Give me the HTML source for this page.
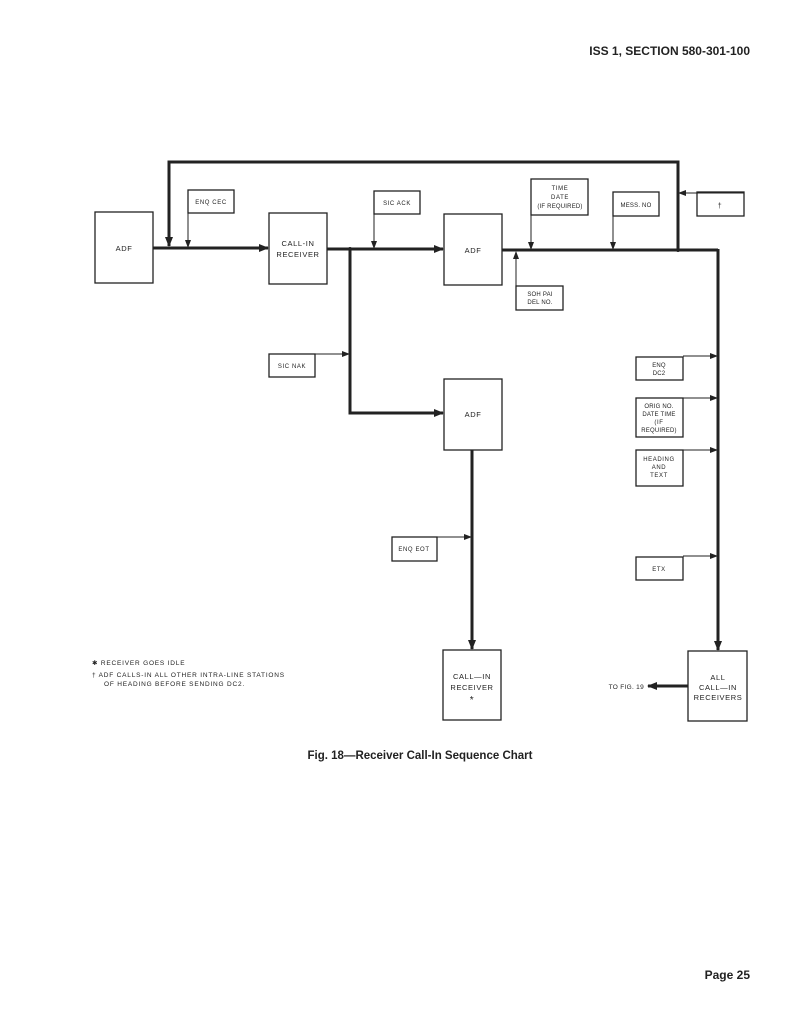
<!DOCTYPE html>
<html><head><meta charset="utf-8"><style>
html,body{margin:0;padding:0;background:#fff;}
svg{display:block}
text{font-family:"Liberation Sans",sans-serif;fill:#222;}
</style></head><body>
<svg width="786" height="1024" viewBox="0 0 786 1024" xmlns="http://www.w3.org/2000/svg">
<defs>
<marker id="a" markerWidth="8" markerHeight="6" refX="7" refY="3" orient="auto" markerUnits="userSpaceOnUse"><path d="M0,0 L8,3 L0,6 Z" fill="#222"/></marker>
<marker id="b" markerWidth="10" markerHeight="8" refX="9" refY="4" orient="auto" markerUnits="userSpaceOnUse"><path d="M0,0 L10,4 L0,8 Z" fill="#222"/></marker>
</defs>
<rect width="786" height="1024" fill="#fff"/>
<text x="750" y="55" text-anchor="end" font-size="12" font-weight="bold">ISS 1, SECTION 580-301-100</text>
<text x="750" y="979" text-anchor="end" font-size="12" font-weight="bold">Page 25</text>
<text x="420" y="759" text-anchor="middle" font-size="11.5" font-weight="bold">Fig. 18—Receiver Call-In Sequence Chart</text>

<g fill="none" stroke="#222" stroke-width="1.3">
<rect x="95" y="212" width="58" height="71"/>
<rect x="269" y="213" width="58" height="71"/>
<rect x="444" y="214" width="58" height="71"/>
<rect x="444" y="379" width="58" height="71"/>
<rect x="443" y="650" width="58" height="70"/>
<rect x="688" y="651" width="59" height="70"/>
<rect x="188" y="190" width="46" height="23"/>
<rect x="374" y="191" width="46" height="23"/>
<rect x="531" y="179" width="57" height="36"/>
<rect x="613" y="192" width="46" height="24"/>
<rect x="697" y="192" width="47" height="24"/>
<rect x="516" y="286" width="47" height="24"/>
<rect x="269" y="354" width="46" height="23"/>
<rect x="636" y="357" width="47" height="23"/>
<rect x="636" y="398" width="47" height="39"/>
<rect x="636" y="450" width="47" height="36"/>
<rect x="636" y="557" width="47" height="23"/>
<rect x="392" y="537" width="45" height="24"/>
</g>

<g fill="none" stroke="#222" stroke-width="3">
<line x1="153" y1="248" x2="268" y2="248" marker-end="url(#b)"/>
<polyline points="678,250 678,162 169,162 169,246" marker-end="url(#b)"/>
<line x1="327" y1="249" x2="443" y2="249" marker-end="url(#b)"/>
<polyline points="350,249 350,413 443,413" marker-end="url(#b)"/>
<line x1="502" y1="250" x2="718" y2="250"/>
<line x1="718" y1="249" x2="718" y2="650" marker-end="url(#b)"/>
<line x1="472" y1="450" x2="472" y2="649" marker-end="url(#b)"/>
<line x1="688" y1="686" x2="648" y2="686" marker-end="url(#b)"/>
</g>

<g fill="none" stroke="#222" stroke-width="1">
<line x1="188" y1="213" x2="188" y2="247" marker-end="url(#a)"/>
<line x1="374" y1="214" x2="374" y2="248" marker-end="url(#a)"/>
<line x1="531" y1="215" x2="531" y2="249" marker-end="url(#a)"/>
<line x1="613" y1="216" x2="613" y2="249" marker-end="url(#a)"/>
<line x1="744" y1="193" x2="679" y2="193" marker-end="url(#a)"/>
<line x1="516" y1="286" x2="516" y2="252" marker-end="url(#a)"/>
<line x1="315" y1="354" x2="349" y2="354" marker-end="url(#a)"/>
<line x1="683" y1="356" x2="717" y2="356" marker-end="url(#a)"/>
<line x1="683" y1="398" x2="717" y2="398" marker-end="url(#a)"/>
<line x1="683" y1="450" x2="717" y2="450" marker-end="url(#a)"/>
<line x1="683" y1="556" x2="717" y2="556" marker-end="url(#a)"/>
<line x1="437" y1="537" x2="471" y2="537" marker-end="url(#a)"/>
</g>
<circle cx="350" cy="249" r="2" fill="#222"/>
<circle cx="678" cy="250" r="2" fill="#222"/>

<g font-size="7" text-anchor="middle" letter-spacing="0.6">
<text x="124" y="251" font-size="7.5">ADF</text>
<text x="298" y="246" font-size="7.5">CALL-IN</text>
<text x="298" y="257" font-size="7.5">RECEIVER</text>
<text x="473" y="253" font-size="7.5">ADF</text>
<text x="473" y="417" font-size="7.5">ADF</text>
<text x="472" y="679" font-size="7.5">CALL—IN</text>
<text x="472" y="690" font-size="7.5">RECEIVER</text>
<text x="472" y="703" font-size="10">*</text>
<text x="718" y="680" font-size="7.5">ALL</text>
<text x="718" y="690" font-size="7.5">CALL—IN</text>
<text x="718" y="700" font-size="7.5">RECEIVERS</text>
<text x="211" y="204" font-size="6">ENQ CEC</text>
<text x="397" y="205" font-size="6">SIC ACK</text>
<text x="560" y="190" font-size="6">TIME</text>
<text x="560" y="199" font-size="6">DATE</text>
<text x="560" y="208" font-size="6" letter-spacing="0.2">(IF REQUIRED)</text>
<text x="636" y="207" font-size="6" letter-spacing="0.2">MESS. NO</text>
<text x="720" y="208" font-size="7">†</text>
<text x="540" y="296" font-size="6" letter-spacing="0.2">SOH PAI</text>
<text x="540" y="304" font-size="6" letter-spacing="0.2">DEL NO.</text>
<text x="292" y="368" font-size="6">SIC NAK</text>
<text x="659" y="367" font-size="6" letter-spacing="0.2">ENQ</text>
<text x="659" y="375" font-size="6" letter-spacing="0.2">DC2</text>
<text x="659" y="408" font-size="6" letter-spacing="0.2">ORIG NO.</text>
<text x="659" y="416" font-size="6" letter-spacing="0.2">DATE TIME</text>
<text x="659" y="424" font-size="6">(IF</text>
<text x="659" y="432" font-size="6" letter-spacing="0.2">REQUIRED)</text>
<text x="659" y="461" font-size="6">HEADING</text>
<text x="659" y="469" font-size="6">AND</text>
<text x="659" y="477" font-size="6">TEXT</text>
<text x="659" y="571" font-size="6">ETX</text>
<text x="414" y="551" font-size="6">ENQ EOT</text>
</g>
<g font-size="6.5" letter-spacing="0.8">
<text x="92" y="665">✱ RECEIVER GOES IDLE</text>
<text x="92" y="677">† ADF CALLS-IN ALL OTHER INTRA-LINE STATIONS</text>
<text x="104" y="686">OF HEADING BEFORE SENDING DC2.</text>
<text x="644" y="689" letter-spacing="0.3" text-anchor="end">TO FIG. 19</text>
</g>
</svg>
</body></html>
